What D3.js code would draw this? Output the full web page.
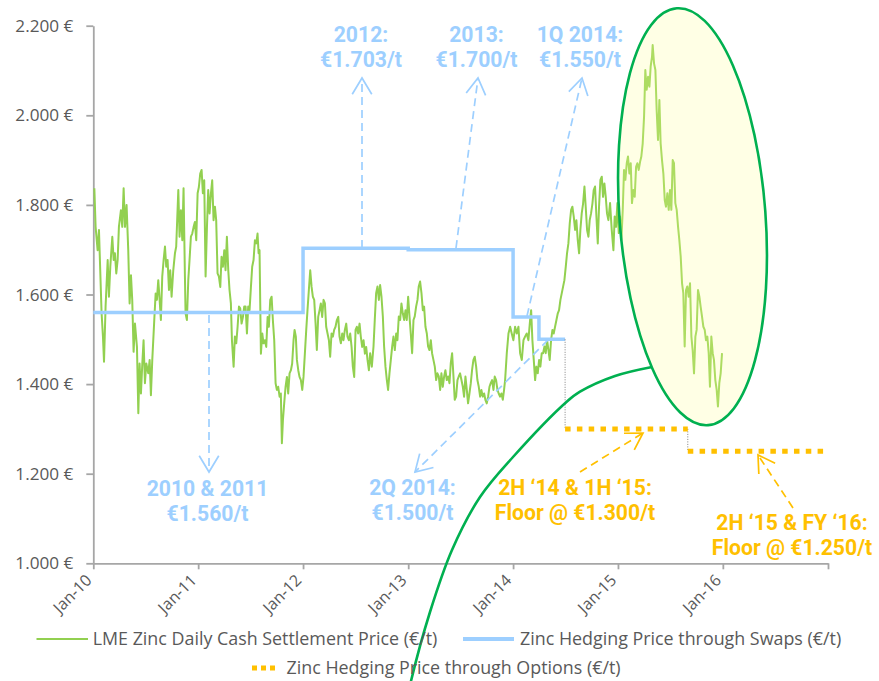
<!DOCTYPE html>
<html><head><meta charset="utf-8">
<script src="https://cdn.jsdelivr.net/npm/d3@7"></script>
<style>body{margin:0;background:#fff}svg{display:block}</style>
</head><body>
<svg id="c" width="879" height="681"></svg>
<script>
// ---------- DATA ----------
const yTickValues = [1000, 1200, 1400, 1600, 1800, 2000, 2200];
const yTickLabels = ["1.000 €", "1.200 €", "1.400 €", "1.600 €", "1.800 €", "2.000 €", "2.200 €"];
const xTickDates = ["2010-01-01","2011-01-01","2012-01-01","2013-01-01","2014-01-01","2015-01-01","2016-01-01","2017-01-01"];
const xTickLabels = ["Jan-10","Jan-11","Jan-12","Jan-13","Jan-14","Jan-15","Jan-16",""];

const swapDates = ["2010-01-01","2012-01-01","2013-01-01","2014-01-01","2014-04-01","2014-07-01"];
const swapPrice = [1560, 1703, 1700, 1550, 1500, 1500];

const optionDates = ["2014-07-01","2015-09-01","2017-01-01"];
const optionPrice = [1300, 1250, 1250];

// years elapsed since 1 Jan 2010
const zincTime = [0.010,0.022,0.041,0.054,0.067,0.079,0.092,0.102,0.117,0.137,0.149,0.162,0.181,0.194,0.206,0.219,0.232,0.244,0.263,0.276,0.289,0.302,0.317,0.333,0.346,0.359,0.371,0.384,0.397,0.416,0.429,0.441,0.454,0.467,0.479,0.492,0.505,0.524,0.537,0.549,0.562,0.581,0.594,0.606,0.619,0.632,0.644,0.657,0.670,0.683,0.695,0.708,0.721,0.733,0.746,0.762,0.778,0.790,0.810,0.822,0.835,0.848,0.860,0.873,0.879,0.892,0.905,0.917,0.930,0.943,0.956,0.968,0.981,0.994,1.006,1.019,1.032,1.044,1.057,1.070,1.083,1.095,1.108,1.121,1.133,1.146,1.159,1.171,1.184,1.197,1.210,1.222,1.235,1.248,1.260,1.273,1.286,1.298,1.311,
1.321,1.337,1.349,1.362,1.375,1.388,1.400,1.413,1.426,1.438,1.451,1.464,1.476,1.489,1.502,1.514,1.527,1.540,1.553,1.565,1.575,1.584,1.597,1.610,1.622,1.635,1.648,1.661,1.673,1.686,1.699,1.711,1.724,1.737,1.749,1.762,1.775,1.787,1.797,1.807,1.819,1.832,1.845,1.857,1.870,1.883,1.895,1.908,1.918,1.930,1.940,1.953,1.965,1.978,1.991,2.003,2.016,2.029,2.041,2.054,2.067,2.080,2.092,2.105,2.118,2.130,2.143,2.156,2.168,2.181,2.194,2.207,2.219,2.232,2.245,2.257,2.270,2.283,2.295,2.308,2.321,2.334,2.346,2.359,2.372,2.384,2.397,2.410,2.422,2.435,2.448,2.461,2.473,2.486,2.499,2.511,2.524,2.537,2.549,2.562,2.575,2.588,2.600,2.613,2.626,
2.638,2.654,2.670,2.682,2.695,2.708,2.721,2.733,2.746,2.759,2.771,2.784,2.797,2.809,2.822,2.835,2.848,2.860,2.873,2.886,2.898,2.911,2.924,2.936,2.949,2.962,2.975,2.987,3.000,3.013,3.025,3.038,3.051,3.063,3.076,3.089,3.101,3.114,3.127,3.140,3.152,3.165,3.178,3.190,3.203,3.216,3.228,3.241,3.254,3.267,3.279,3.292,3.305,3.317,3.330,3.343,3.355,3.368,3.381,3.394,3.406,3.419,3.432,3.444,3.457,3.470,3.482,3.495,3.508,3.521,3.533,3.546,3.559,3.571,3.584,3.597,3.609,3.622,3.635,3.648,3.660,3.673,3.686,3.698,3.711,3.724,3.736,3.749,3.762,3.775,3.787,3.800,3.813,3.825,3.838,3.851,3.863,3.876,3.889,3.902,3.914,
3.924,3.940,3.956,3.972,3.987,4.003,4.019,4.035,4.051,4.067,4.083,4.099,4.114,4.130,4.146,4.162,4.172,4.184,4.197,4.210,4.222,4.235,4.248,4.260,4.273,4.286,4.299,4.311,4.324,4.337,4.349,4.362,4.375,4.387,4.400,4.413,4.426,4.438,4.451,4.464,4.476,4.489,4.502,4.514,4.527,4.540,4.553,4.565,4.578,4.591,4.603,4.616,4.629,4.641,4.654,4.667,4.680,4.692,4.705,4.718,4.730,4.743,4.756,4.768,4.781,4.794,4.807,4.819,4.832,4.845,4.857,4.870,4.883,4.895,4.908,
4.924,4.940,4.956,4.968,4.981,4.994,5.007,5.019,5.032,5.045,5.057,5.070,5.083,5.095,5.108,5.121,5.133,5.146,5.159,5.172,5.184,5.197,5.210,5.222,5.235,5.248,5.260,5.273,5.286,5.299,5.311,5.324,5.330,5.343,5.356,5.368,5.381,5.394,5.406,5.419,5.432,5.445,5.457,5.470,5.483,5.495,5.508,5.521,5.533,5.546,5.559,5.572,5.584,5.597,5.610,5.622,5.635,5.648,5.660,5.673,5.686,5.699,5.711,5.724,5.737,5.749,5.762,5.775,5.787,5.800,5.813,5.826,5.838,5.851,5.864,5.876,5.889,5.902,5.914,5.927,5.940,5.952,5.965,5.978,5.991];
const zincPrice = [1837,1751,1699,1744,1647,1558,1506,1450,1573,1677,1595,1662,1729,1677,1692,1647,1677,1751,1788,1751,1837,1751,1800,1699,1580,1643,1588,1472,1535,1483,1335,1446,1379,1446,1498,1402,1446,1424,1454,1375,1454,1543,1602,1588,1632,1588,1543,1640,1677,1707,1662,1677,1610,1654,1595,1654,1692,1707,1833,1729,1788,1721,1837,1640,1558,1543,1632,1677,1729,1736,1751,1762,1721,1826,1840,1870,1878,1826,1855,1640,1751,1833,1781,1826,1855,1766,1796,1766,1647,1640,1617,1684,1662,1699,1654,1729,1654,1610,1580,
1498,1439,1506,1491,1528,1573,1569,1535,1550,1573,1573,1513,1573,1565,1617,1662,1677,1721,1714,1736,1692,1699,1468,1513,1491,1498,1483,1550,1528,1588,1595,1543,1498,1402,1387,1394,1372,1379,1268,1320,1357,1394,1416,1379,1424,1431,1446,1498,1521,1506,1454,1431,1416,1409,1387,1416,1468,1521,1565,1610,1654,1617,1595,1588,1535,1476,1550,1565,1580,1550,1588,1580,1528,1513,1498,1461,1513,1506,1521,1528,1543,1550,1506,1491,1513,1498,1521,1535,1506,1498,1513,1483,1439,1416,1521,1528,1513,1535,1506,1483,1498,1468,1483,1454,1431,
1469,1439,1484,1543,1603,1618,1588,1621,1595,1551,1484,1439,1409,1387,1424,1454,1484,1506,1476,1513,1498,1551,1543,1580,1558,1543,1565,1543,1595,1551,1513,1469,1543,1551,1573,1588,1618,1629,1603,1565,1573,1528,1513,1484,1476,1498,1469,1454,1439,1409,1424,1417,1387,1424,1394,1417,1431,1409,1417,1402,1446,1469,1417,1365,1372,1409,1417,1424,1409,1394,1372,1417,1387,1357,1379,1402,1431,1454,1461,1439,1409,1394,1372,1387,1372,1379,1365,1357,1372,1394,1402,1409,1387,1417,1409,1387,1379,1372,1379,1365,1387,
1409,1469,1513,1528,1513,1498,1528,1513,1528,1469,1454,1498,1506,1513,1498,1543,1565,1498,1454,1409,1439,1424,1454,1439,1469,1469,1484,1469,1498,1476,1454,1498,1521,1513,1528,1543,1558,1565,1588,1603,1617,1632,1662,1692,1714,1759,1789,1796,1774,1744,1766,1722,1692,1744,1781,1803,1841,1796,1744,1729,1766,1781,1803,1833,1841,1774,1714,1796,1856,1863,1818,1848,1818,1781,1766,
1804,1744,1699,1774,1751,1804,1737,1774,1722,1789,1878,1856,1893,1908,1870,1893,1804,1833,1818,1885,1893,1878,1896,1908,1937,1997,2101,2057,2086,2064,2109,2131,2157,2116,2101,2012,1945,2034,1937,1900,1870,1811,1796,1826,1789,1833,1789,1900,1893,1804,1789,1751,1722,1685,1625,1603,1484,1610,1618,1595,1625,1506,1476,1424,1506,1521,1610,1595,1573,1551,1528,1521,1498,1506,1469,1394,1506,1469,1454,1409,1387,1350,1402,1424,1469];

const swapNotes = [["2010 & 2011", "€1.560/t"], ["2012:", "€1.703/t"], ["2013:", "€1.700/t"], ["1Q 2014:", "€1.550/t"], ["2Q 2014:", "€1.500/t"]];
const optionNotes = [["2H \u201814 & 1H \u201815:", "Floor @ €1.300/t"], ["2H \u201815 & FY \u201816:", "Floor @ €1.250/t"]];
const legendLabels = ["LME Zinc Daily Cash Settlement Price (€/t)", "Zinc Hedging Price through Swaps (€/t)", "Zinc Hedging Price through Options (€/t)"];

// ---------- SETUP ----------
const GREEN = "#92D050", BLUE = "#9DCFFF", ORANGE = "#FFC000", TXT = "#595959", AXIS = "#A6A6A6", DARKGREEN = "#00B050";
const FONT = "'Open Sans', 'Noto Sans', sans-serif";
const NOTEFONT = "Roboto, 'Open Sans', sans-serif";
const svg = d3.select("#c");
const pd = s => new Date(s + "T00:00:00Z");
const t2d = t => new Date(Date.UTC(2010, 0, 1) + t * 365.25 * 864e5);

const x = d3.scaleUtc().domain([pd("2010-01-01"), pd("2017-01-01")]).range([93.3, 828]);
const y = d3.scaleLinear().domain([1000, 2200]).range([563.3, 25.7]);

function fitGroup(sel, refNode, target) {
  const w = refNode.getComputedTextLength();
  const fs = parseFloat(d3.select(refNode).attr("font-size"));
  sel.attr("font-size", fs * target / w);
}

// ---------- AXES ----------
const yAxis = svg.append("g").attr("transform", `translate(${x.range()[0]},0)`)
  .call(d3.axisLeft(y).tickValues(yTickValues).tickFormat((d, i) => yTickLabels[i]).tickSize(7).tickSizeOuter(0).tickPadding(13));
const xAxis = svg.append("g").attr("transform", `translate(0,${y.range()[0]})`)
  .call(d3.axisBottom(x).tickValues(xTickDates.map(pd)).tickFormat((d, i) => xTickLabels[i]).tickSize(6).tickSizeOuter(0));
[yAxis, xAxis].forEach(a => {
  a.select(".domain").attr("stroke", AXIS).attr("stroke-width", 1.8);
  a.selectAll(".tick line").attr("stroke", AXIS).attr("stroke-width", 1.8);
  a.selectAll("text").attr("fill", TXT).attr("font-family", FONT).attr("font-size", 16);
});
fitGroup(yAxis.selectAll("text"), yAxis.selectAll("text").nodes()[6], 58);
xAxis.selectAll("text").attr("font-size", 16).attr("text-anchor", "end")
  .attr("y", 0).attr("dy", 0).attr("transform", "translate(-1,18) rotate(-45)");

// ---------- SERIES ----------
const zinc = zincTime.map((t, i) => [t2d(t), zincPrice[i]]);
svg.append("path").datum(zinc)
  .attr("d", d3.line().x(d => x(d[0])).y(d => y(d[1])))
  .attr("fill", "none").attr("stroke", GREEN).attr("stroke-width", 2).attr("stroke-linejoin", "round");

const swaps = swapDates.map((d, i) => [pd(d), swapPrice[i]]);
svg.append("path").datum(swaps)
  .attr("d", d3.line().x(d => x(d[0])).y(d => y(d[1])).curve(d3.curveStepAfter))
  .attr("fill", "none").attr("stroke", BLUE).attr("stroke-width", 3.5);

// thin connectors between hedge periods
const connectors = [[pd(swapDates[5]), swapPrice[5], optionPrice[0]], [pd(optionDates[1]), optionPrice[0], optionPrice[1]]];
svg.selectAll("line.conn").data(connectors).join("line").attr("class", "conn")
  .attr("x1", d => x(d[0])).attr("x2", d => x(d[0])).attr("y1", d => y(d[1])).attr("y2", d => y(d[2]))
  .attr("stroke", "#7F7F7F").attr("stroke-width", 1).attr("stroke-dasharray", "1,1.5");

const opts = optionDates.map((d, i) => [pd(d), optionPrice[i]]);
svg.selectAll("line.opt").data(opts.slice(0, 2)).join("line").attr("class", "opt")
  .attr("x1", d => x(d[0])).attr("x2", (d, i) => x(opts[i + 1][0]))
  .attr("y1", d => y(d[1])).attr("y2", d => y(d[1]))
  .attr("stroke", ORANGE).attr("stroke-width", 5).attr("stroke-dasharray", "5.5,6.3");

// ---------- HIGHLIGHT ELLIPSE ----------
svg.append("ellipse").attr("cx", 0).attr("cy", 0).attr("rx", 73).attr("ry", 209)
  .attr("transform", "translate(692.5,216.7) rotate(-4.3)")
  .attr("fill", "#FFFF99").attr("fill-opacity", 0.25)
  .attr("stroke", DARKGREEN).attr("stroke-width", 2.6);

// ---------- ANNOTATIONS ----------
function arrow(x1, y1, x2, y2, color) {
  const g = svg.append("g").attr("stroke", color).attr("fill", "none").attr("stroke-width", 1.7);
  g.append("line").attr("x1", x1).attr("y1", y1).attr("x2", x2).attr("y2", y2).attr("stroke-dasharray", "8,5");
  const a = Math.atan2(y1 - y2, x1 - x2), L = 19, h = 0.54;
  g.append("path").attr("d",
    `M${x2 + L * Math.cos(a - h)},${y2 + L * Math.sin(a - h)}L${x2},${y2}L${x2 + L * Math.cos(a + h)},${y2 + L * Math.sin(a + h)}`);
}
arrow(209, 315, 209, 472, BLUE);
arrow(362, 248, 362, 78, BLUE);
arrow(456, 248, 478, 78, BLUE);
arrow(527, 316, 582, 78, BLUE);
arrow(548, 340, 415, 472, BLUE);
arrow(580, 472, 643, 433, ORANGE);
arrow(793, 508, 758, 455, ORANGE);

// common bold size: fit reference width, capped so two lines 25px apart stay clear
const probe = svg.append("text").attr("font-family", NOTEFONT).attr("font-weight", 700).attr("font-size", 20).text(swapNotes[3][1]);
const noteSize = Math.min(21.2, 20 * 85 / probe.node().getComputedTextLength());
probe.remove();
function note(group, pos, lines) {
  const t = group.append("text").attr("x", pos[0]).attr("y", pos[1]).attr("font-size", noteSize);
  lines.forEach((s, j) => t.append("tspan").attr("x", pos[0]).attr("dy", j ? 25 : 0).text(s));
}
const notePos = [[207.5, 496], [361, 42], [476.5, 42], [580, 42], [412.5, 495]];
const noteG = svg.append("g").attr("font-family", NOTEFONT).attr("font-weight", 700).attr("fill", BLUE).attr("text-anchor", "middle");
swapNotes.forEach((n, i) => note(noteG, notePos[i], n));
const optPos = [[575, 495], [792, 530]];
const optG = svg.append("g").attr("font-family", NOTEFONT).attr("font-weight", 700).attr("fill", ORANGE).attr("text-anchor", "middle");
optionNotes.forEach((n, i) => note(optG, optPos[i], n));

// big arc callout
const arcPts = [[652, 367], [615, 376], [580, 391.7], [566.7, 401.7], [513, 457], [480, 497], [452, 550], [430, 612], [411, 681], [407, 700]];
svg.append("path").attr("d", d3.line().curve(d3.curveCatmullRom)(arcPts))
  .attr("fill", "none").attr("stroke", DARKGREEN).attr("stroke-width", 2.6);

// ---------- LEGEND ----------
const lg = svg.append("g").attr("font-family", FONT).attr("fill", TXT);
const legendItems = [
  { x0: 36.5, x1: 88, y: 639, tx: 92.7, stroke: GREEN, sw: 2, dash: null },
  { x0: 463, x1: 514, y: 639, tx: 520, stroke: BLUE, sw: 4, dash: null },
  { x0: 252, x1: 276, y: 668, tx: 286.5, stroke: ORANGE, sw: 5, dash: "5,4" }
];
const legTexts = [];
legendItems.forEach((it, i) => {
  lg.append("line").attr("x1", it.x0).attr("x2", it.x1).attr("y1", it.y).attr("y2", it.y)
    .attr("stroke", it.stroke).attr("stroke-width", it.sw).attr("stroke-dasharray", it.dash);
  legTexts.push(lg.append("text").attr("x", it.tx).attr("y", it.y + 5.5).attr("font-size", 15).text(legendLabels[i]).node());
});
fitGroup(d3.selectAll(legTexts), legTexts[0], 345);
</script>
</body></html>
